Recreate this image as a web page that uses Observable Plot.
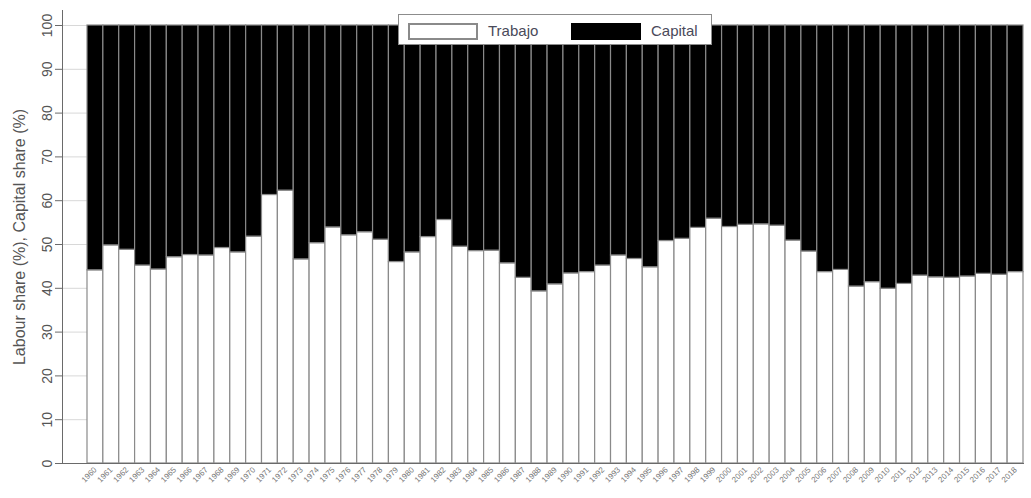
<!DOCTYPE html>
<html>
<head>
<meta charset="utf-8">
<script src="https://cdn.jsdelivr.net/npm/d3@7"></script>
<script src="https://cdn.jsdelivr.net/npm/@observablehq/plot@0.6"></script>
<style>
  html, body { margin: 0; padding: 0; background: #fff; }
  #wrap { position: relative; width: 1031px; height: 498px; font-family: "Liberation Sans", Arial, sans-serif; }
  #legend { position: absolute; left: 398px; top: 14px; width: 314px; height: 31px; background: #fff; border: 1px solid #8c8c8c; box-sizing: border-box; }
  .sw { position: absolute; top: 8px; height: 17px; box-sizing: border-box; }
  .lt { position: absolute; top: 7px; font-size: 15px; color: #4a4a5a; line-height: 17px; }
</style>
</head>
<body>
<div id="wrap">
  <div id="chart"></div>
  <div id="legend">
    <div class="sw" style="left:9px;width:70px;background:#fff;border:2px solid #8a8a8a;"></div>
    <div class="lt" style="left:89px;">Trabajo</div>
    <div class="sw" style="left:172px;width:70px;background:#000;"></div>
    <div class="lt" style="left:252px;">Capital</div>
  </div>
</div>
<script>
const years = ["1960","1961","1962","1963","1964","1965","1966","1967","1968","1969",
  "1970","1971","1972","1973","1974","1975","1976","1977","1978","1979",
  "1980","1981","1982","1983","1984","1985","1986","1987","1988","1989",
  "1990","1991","1992","1993","1994","1995","1996","1997","1998","1999",
  "2000","2001","2002","2003","2004","2005","2006","2007","2008","2009",
  "2010","2011","2012","2013","2014","2015","2016","2017","2018"];

const labour = [44.1, 49.8, 48.8, 45.2, 44.3, 47.1, 47.6, 47.5, 49.2, 48.2,
  51.8, 61.3, 62.3, 46.6, 50.3, 53.9, 52.1, 52.8, 51.1, 46.0,
  48.2, 51.7, 55.6, 49.5, 48.5, 48.6, 45.7, 42.4, 39.3, 40.9,
  43.4, 43.7, 45.2, 47.5, 46.7, 44.8, 50.8, 51.3, 53.8, 55.9,
  54.0, 54.5, 54.6, 54.3, 50.9, 48.4, 43.7, 44.2, 40.4, 41.4,
  39.9, 41.0, 42.9, 42.5, 42.4, 42.7, 43.3, 43.1, 43.7];

const capital = [55.9, 50.2, 51.2, 54.8, 55.7, 52.9, 52.4, 52.5, 50.8, 51.8,
  48.2, 38.7, 37.7, 53.4, 49.7, 46.1, 47.9, 47.2, 48.9, 54.0,
  51.8, 48.3, 44.4, 50.5, 51.5, 51.4, 54.3, 57.6, 60.7, 59.1,
  56.6, 56.3, 54.8, 52.5, 53.3, 55.2, 49.2, 48.7, 46.2, 44.1,
  46.0, 45.5, 45.4, 45.7, 49.1, 51.6, 56.3, 55.8, 59.6, 58.6,
  60.1, 59.0, 57.1, 57.5, 57.6, 57.3, 56.7, 56.9, 56.3];

const series = ["Trabajo", "Capital"];
const seriesColors = ["#ffffff", "#000000"];
const yTicks = [0, 10, 20, 30, 40, 50, 60, 70, 80, 90, 100];
const yLabel = "Labour share (%), Capital share (%)";

const rows = [];
years.forEach((yr, i) => {
  rows.push({year: yr, series: series[0], value: labour[i]});
  rows.push({year: yr, series: series[1], value: capital[i]});
});

const chart = Plot.plot({
  width: 1031,
  height: 498,
  marginLeft: 62,
  marginRight: 8,
  marginTop: 10,
  marginBottom: 35,
  style: {fontFamily: "'Liberation Sans', Arial, sans-serif", color: "#444", background: "#fff"},
  x: {type: "band", domain: years, padding: 0, insetLeft: 25, insetRight: 0},
  y: {domain: [0, 100], insetTop: 15},
  color: {domain: series, range: seriesColors},
  marks: [
    Plot.gridY(yTicks, {stroke: "#d8d8d8", strokeOpacity: 1}),
    Plot.barY(rows, Plot.stackY({order: series}, {x: "year", y: "value", fill: "series", stroke: "#8a8a8a", strokeWidth: 1.2})),
    Plot.frame({anchor: "left", stroke: "#6a6a6a"}),
    Plot.frame({anchor: "bottom", stroke: "#6a6a6a"}),
    Plot.axisY({ticks: yTicks, tickSize: 7, tickPadding: 4, tickRotate: -90, textAnchor: "middle", lineAnchor: "bottom",
      fontSize: 14, stroke: "#6a6a6a", fill: "#555",
      label: yLabel, labelAnchor: "center", labelArrow: "none", labelOffset: 49}),
    Plot.axisX({tickSize: 0, tickPadding: 5, tickRotate: -45, fontSize: 8, fill: "#777", stroke: "#6a6a6a", label: null})
  ]
});
document.getElementById("chart").appendChild(chart);
chart.querySelectorAll("[aria-label='y-axis label'] text").forEach(t => { t.style.fontSize = "16px"; t.setAttribute("fill", "#555"); });
</script>
</body>
</html>
